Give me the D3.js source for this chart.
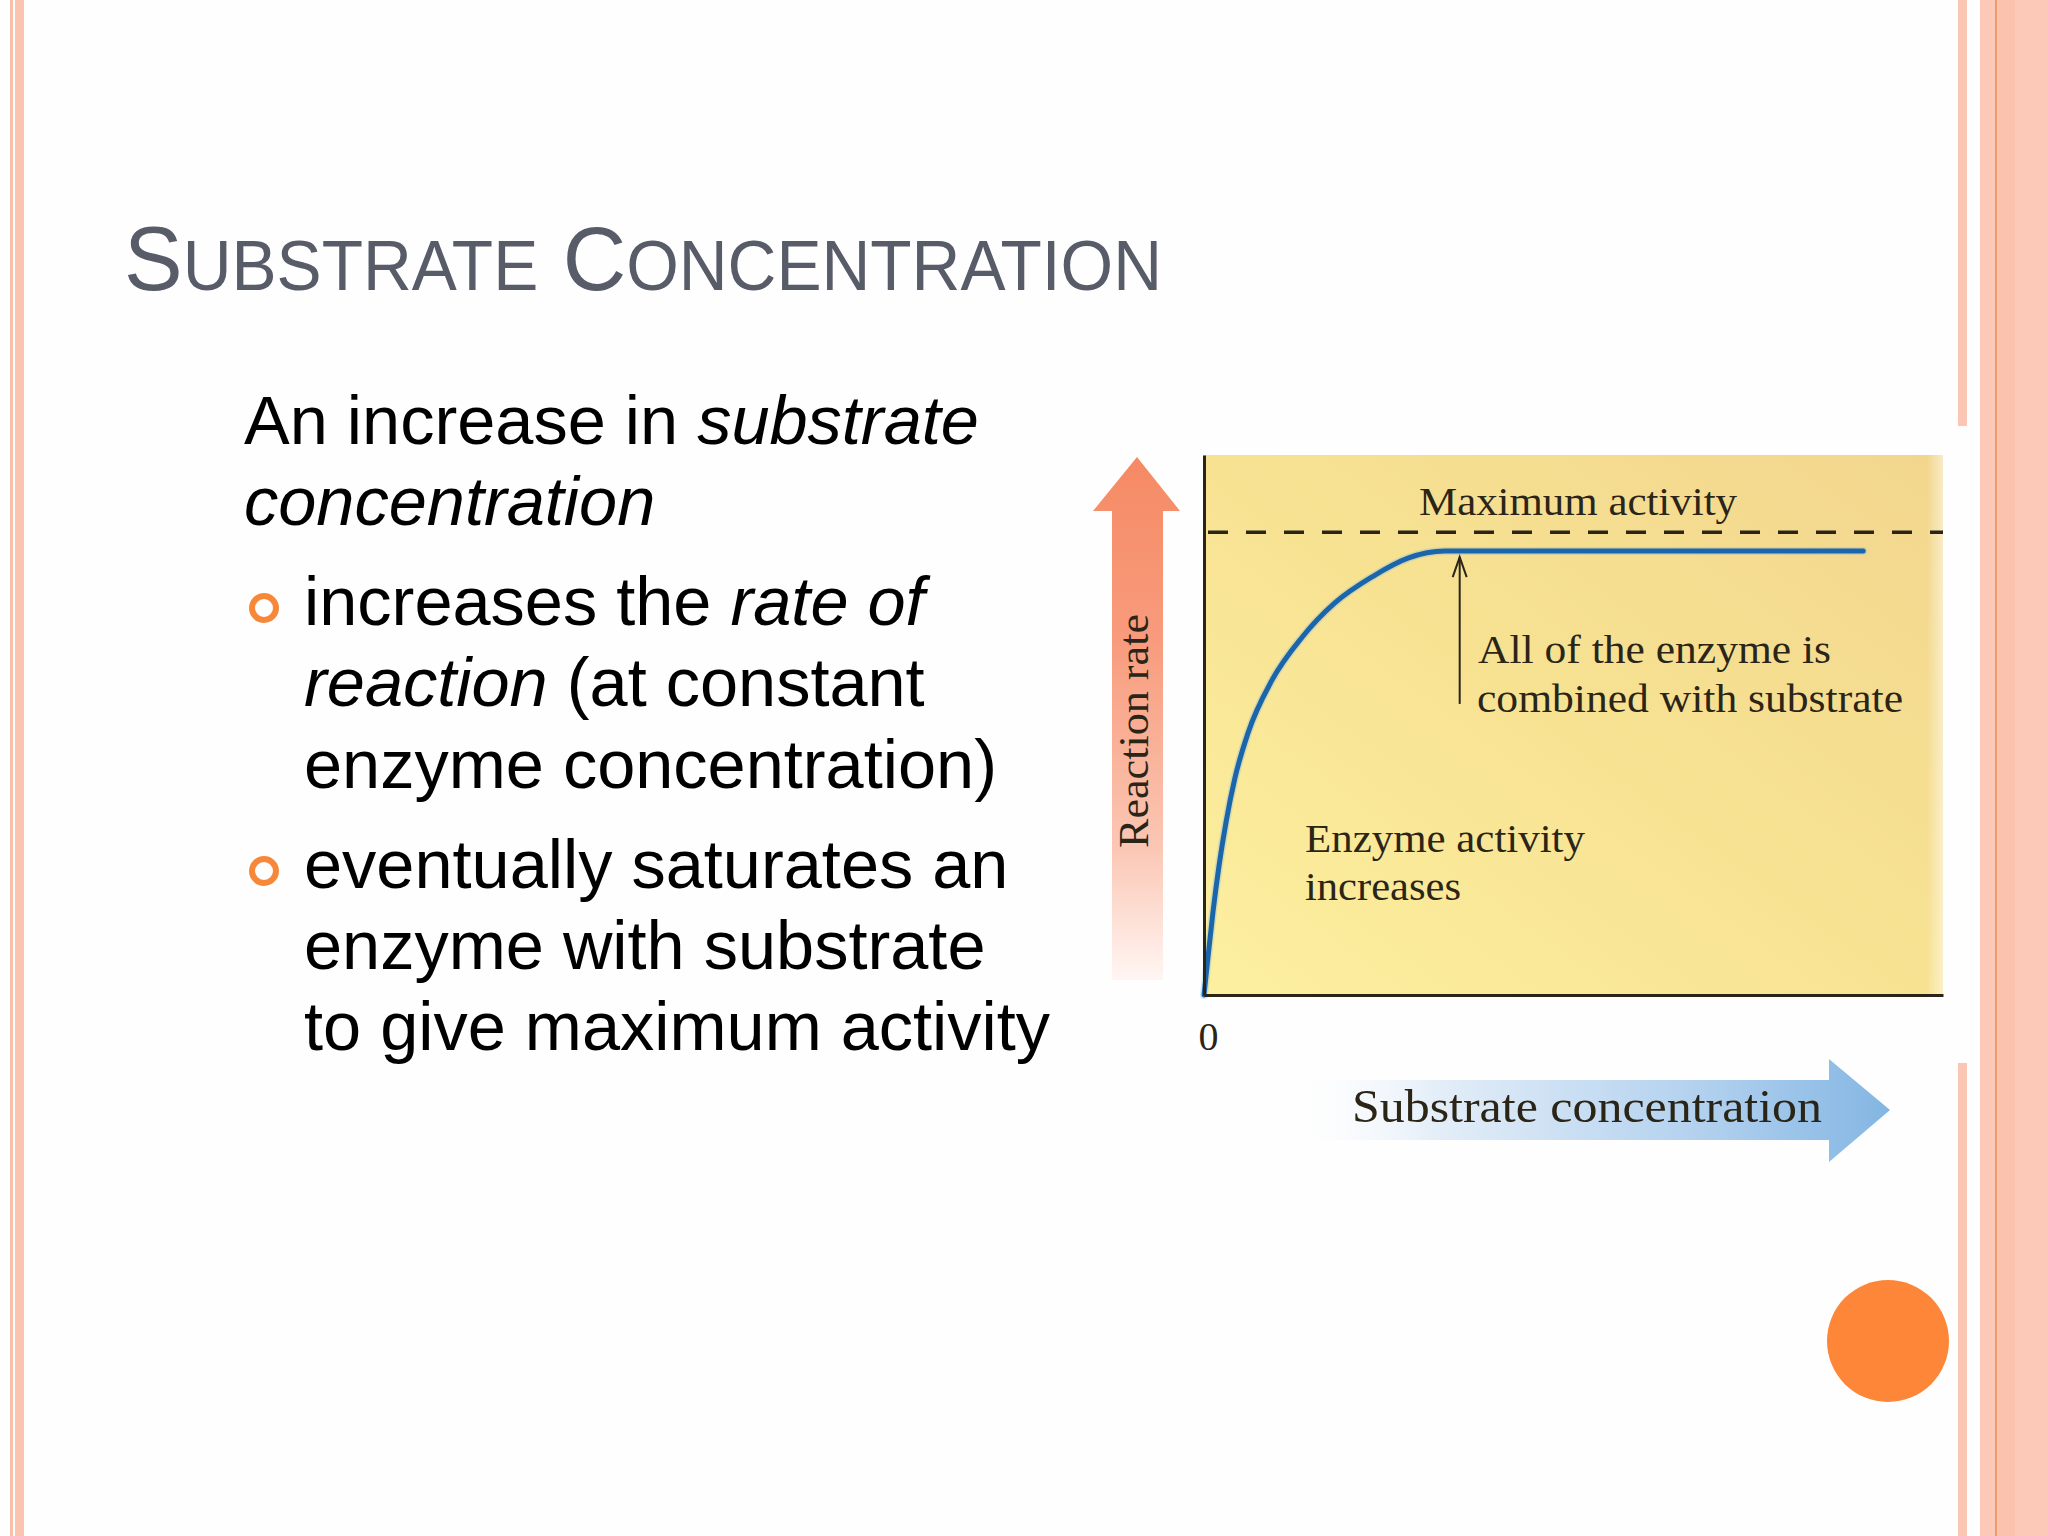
<!DOCTYPE html>
<html>
<head>
<meta charset="utf-8">
<script src="https://cdn.jsdelivr.net/npm/d3@7"></script>
<style>
  html, body { margin: 0; padding: 0; background: #ffffff; }
  svg { display: block; }
</style>
</head>
<body>
<svg id="chart" width="2048" height="1536"></svg>
<script>
// ---------- data ----------
const substrate = [0, 0.054, 0.122, 0.203, 0.298, 0.419, 0.595, 0.92, 1.33, 1.77, 2.27, 2.76, 3.26, 4.5, 8.92];
const rate      = [0, 7.0, 15.4, 23.9, 32.0, 40.2, 48.5, 58.3, 66.3, 72.6, 77.4, 80.9, 82.2, 82.2, 82.2];
const maxRate = 85.7;
const xTicks = [0];
const saturationPoint = { x: 3.46, yFrom: 53.9, yTo: 81.1 };

const titleParts = [["S", true], ["UBSTRATE", false], [" ", true], ["C", true], ["ONCENTRATION", false]];
const bodyLines = [
  { indent: false, parts: [["An increase in ", false], ["substrate", true]] },
  { indent: false, parts: [["concentration", true]] },
  { indent: true, bullet: true, parts: [["increases the ", false], ["rate of", true]] },
  { indent: true, parts: [["reaction", true], [" (at constant", false]] },
  { indent: true, parts: [["enzyme concentration)", false]] },
  { indent: true, bullet: true, parts: [["eventually saturates an", false]] },
  { indent: true, parts: [["enzyme with substrate", false]] },
  { indent: true, parts: [["to give maximum activity", false]] }
];
const bodyBaselines = [444, 525, 625, 706, 788, 888, 969, 1050];

const svg = d3.select("#chart");
const defs = svg.append("defs");

// ---------- slide decoration ----------
svg.append("rect").attr("x", 0).attr("y", 0).attr("width", 2048).attr("height", 1536).attr("fill", "#fefefe");
svg.append("rect").attr("x", 10).attr("y", 0).attr("width", 3).attr("height", 1536).attr("fill", "#f8bfa9");
svg.append("rect").attr("x", 15).attr("y", 0).attr("width", 9).attr("height", 1536).attr("fill", "#f9c4b0");
svg.append("rect").attr("x", 1958).attr("y", 0).attr("width", 9).attr("height", 426).attr("fill", "#fcc6b4");
svg.append("rect").attr("x", 1958).attr("y", 1063).attr("width", 9).attr("height", 473).attr("fill", "#fcc6b4");
svg.append("rect").attr("x", 1980).attr("y", 0).attr("width", 68).attr("height", 1536).attr("fill", "#fcc8b7");
svg.append("rect").attr("x", 1998).attr("y", 0).attr("width", 17).attr("height", 1536).attr("fill", "#fbc2ae");
svg.append("rect").attr("x", 1995).attr("y", 0).attr("width", 2).attr("height", 1536).attr("fill", "#f0996f");

svg.append("circle").attr("cx", 1888).attr("cy", 1341).attr("r", 61).attr("fill", "#fd8638");

// ---------- title ----------
const title = svg.append("text")
  .attr("x", 124).attr("y", 290)
  .attr("font-family", "Liberation Sans, Arial, sans-serif")
  .attr("fill", "#585c68")
  .attr("textLength", 1038).attr("lengthAdjust", "spacingAndGlyphs");
titleParts.forEach(([t, big]) => {
  title.append("tspan").attr("font-size", big ? 91 : 70).text(t);
});

// ---------- body text ----------
bodyLines.forEach((line, i) => {
  const x = line.indent ? 304 : 244;
  const t = svg.append("text")
    .attr("x", x).attr("y", bodyBaselines[i])
    .attr("font-family", "Liberation Sans, Arial, sans-serif")
    .attr("font-size", 68.5)
    .attr("fill", "#000");
  line.parts.forEach(([s, it]) => {
    t.append("tspan").attr("font-style", it ? "italic" : "normal").text(s);
  });
  if (line.bullet) {
    svg.append("circle").attr("cx", 264).attr("cy", bodyBaselines[i] - 17)
      .attr("r", 12).attr("fill", "none").attr("stroke", "#f7883a").attr("stroke-width", 6);
  }
});

// ---------- chart ----------
const plot = { left: 1204, right: 1943, top: 455, bottom: 995 };
const x = d3.scaleLinear().domain([0, 10]).range([plot.left, plot.right]);
const y = d3.scaleLinear().domain([0, 100]).range([plot.bottom, plot.top]);

const bg = defs.append("linearGradient").attr("id", "bg")
  .attr("x1", "100%").attr("y1", "0%").attr("x2", "0%").attr("y2", "100%");
bg.append("stop").attr("offset", "0%").attr("stop-color", "#f2d68e");
bg.append("stop").attr("offset", "50%").attr("stop-color", "#f7e292");
bg.append("stop").attr("offset", "100%").attr("stop-color", "#fcf0a0");
svg.append("rect").attr("x", plot.left).attr("y", plot.top)
  .attr("width", plot.right - plot.left).attr("height", plot.bottom - plot.top)
  .attr("fill", "url(#bg)");
const fade = defs.append("linearGradient").attr("id", "fade")
  .attr("x1", "0%").attr("y1", "0%").attr("x2", "100%").attr("y2", "0%");
fade.append("stop").attr("offset", "0%").attr("stop-color", "#ffffff").attr("stop-opacity", 0);
fade.append("stop").attr("offset", "100%").attr("stop-color", "#ffffff").attr("stop-opacity", 0.5);
svg.append("rect").attr("x", plot.right - 16).attr("y", plot.top)
  .attr("width", 16).attr("height", plot.bottom - plot.top).attr("fill", "url(#fade)");

// red "Reaction rate" arrow
const rg = defs.append("linearGradient").attr("id", "redArrow")
  .attr("x1", "0").attr("y1", "0").attr("x2", "0").attr("y2", "1");
rg.append("stop").attr("offset", "0%").attr("stop-color", "#f58a64");
rg.append("stop").attr("offset", "35%").attr("stop-color", "#f89b7c");
rg.append("stop").attr("offset", "75%").attr("stop-color", "#fbc7b5");
rg.append("stop").attr("offset", "100%").attr("stop-color", "#fff6f3");
svg.append("path")
  .attr("d", "M1137,457 L1180,511 L1163,511 L1163,980 L1112,980 L1112,511 L1093,511 Z")
  .attr("fill", "url(#redArrow)");

// blue "Substrate concentration" arrow
const bgr = defs.append("linearGradient").attr("id", "blueArrow")
  .attr("x1", "0").attr("y1", "0").attr("x2", "1").attr("y2", "0");
bgr.append("stop").attr("offset", "0%").attr("stop-color", "#ffffff").attr("stop-opacity", 0);
bgr.append("stop").attr("offset", "25%").attr("stop-color", "#e4eef8");
bgr.append("stop").attr("offset", "70%").attr("stop-color", "#b1d0ee");
bgr.append("stop").attr("offset", "100%").attr("stop-color", "#83b6e3");
svg.append("path")
  .attr("d", "M1281,1080 L1829,1080 L1829,1059 L1890,1110 L1829,1162 L1829,1140 L1281,1140 Z")
  .attr("fill", "url(#blueArrow)");

const ink = "#2b2517";

// dashed maximum line
svg.append("line")
  .attr("x1", x(0) + 4).attr("x2", plot.right)
  .attr("y1", y(maxRate)).attr("y2", y(maxRate))
  .attr("stroke", ink).attr("stroke-width", 3.5)
  .attr("stroke-dasharray", "20 18");

// curve
const line = d3.line().x(d => x(d[0])).y(d => y(d[1])).curve(d3.curveMonotoneX);
const pts = substrate.map((s, i) => [s, rate[i]]);
svg.append("path").datum(pts)
  .attr("d", line)
  .attr("fill", "none")
  .attr("stroke", "#8fb6d6").attr("stroke-width", 8).attr("stroke-opacity", 0.35)
  .attr("stroke-linecap", "round");
svg.append("path").datum(pts)
  .attr("d", line)
  .attr("fill", "none")
  .attr("stroke", "#1b66ab").attr("stroke-width", 5)
  .attr("stroke-linecap", "round");

// axes
const yAxis = d3.axisLeft(y).tickValues([]).tickSizeOuter(0);
svg.append("g").attr("transform", `translate(${plot.left},0)`).call(yAxis)
  .select(".domain").attr("stroke", ink).attr("stroke-width", 3);
const xAxis = d3.axisBottom(x).tickValues(xTicks).tickSize(0).tickSizeOuter(0).tickFormat(d3.format("d"));
const xg = svg.append("g").attr("transform", `translate(0,${plot.bottom})`).call(xAxis);
xg.select(".domain").attr("stroke", ink).attr("stroke-width", 3);
xg.selectAll(".tick text")
  .attr("font-family", "Liberation Serif, Times New Roman, serif")
  .attr("font-size", 40).attr("fill", ink)
  .attr("dy", 0).attr("y", 55).attr("dx", 4);

// saturation arrow
const sx = x(saturationPoint.x);
svg.append("line").attr("x1", sx).attr("x2", sx)
  .attr("y1", y(saturationPoint.yFrom)).attr("y2", y(saturationPoint.yTo))
  .attr("stroke", ink).attr("stroke-width", 2);
svg.append("path")
  .attr("d", `M${sx - 7},${y(saturationPoint.yTo) + 20} L${sx},${y(saturationPoint.yTo)} L${sx + 7},${y(saturationPoint.yTo) + 20}`)
  .attr("fill", "none").attr("stroke", ink).attr("stroke-width", 2);

// annotations
const serif = "Liberation Serif, Times New Roman, serif";
function label(txt, lx, ly, len, size) {
  svg.append("text").attr("x", lx).attr("y", ly)
    .attr("font-family", serif).attr("font-size", size).attr("fill", ink)
    .attr("textLength", len).attr("lengthAdjust", "spacingAndGlyphs")
    .text(txt);
}
label("Maximum activity", 1419, 515, 318, 40);
label("All of the enzyme is", 1478, 663, 353, 40);
label("combined with substrate", 1477, 712, 426, 40);
label("Enzyme activity", 1305, 852, 280, 40);
label("increases", 1305, 900, 156, 40);
label("Substrate concentration", 1352, 1122, 470, 47);

svg.append("text")
  .attr("transform", "translate(1148,731) rotate(-90)")
  .attr("text-anchor", "middle")
  .attr("font-family", serif).attr("font-size", 42).attr("fill", ink)
  .attr("textLength", 234).attr("lengthAdjust", "spacingAndGlyphs")
  .text("Reaction rate");
</script>
</body>
</html>
